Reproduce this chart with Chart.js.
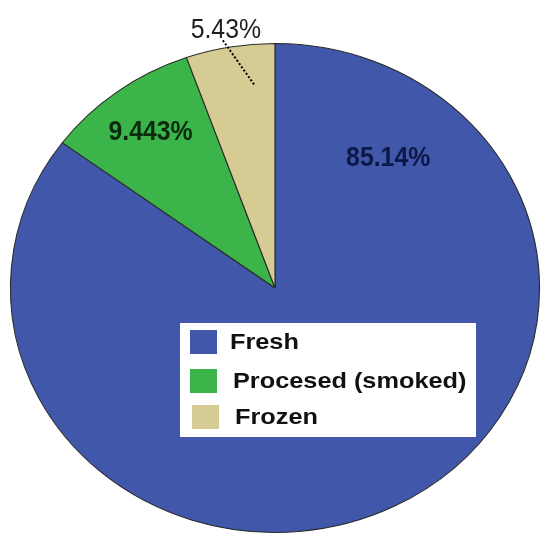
<!DOCTYPE html>
<html>
<head>
<meta charset="utf-8">
<script src="https://cdn.jsdelivr.net/npm/chart.js@4"></script>
<style>
  html, body { margin: 0; padding: 0; background: #fff; }
  #wrap { width: 543px; height: 537px; }
</style>
</head>
<body>
<div id="wrap"><canvas id="pie" width="543" height="537"></canvas></div>
<script>
// data
const categories = ['Fresh', 'Procesed (smoked)', 'Frozen'];
const shares = [85.14, 9.443, 5.43];
const sliceColors = ['#4157AA', '#3BB54A', '#D5CB93'];
const labelColors = ['#0c1848', '#0b2a0e', '#1e1e1e'];

// the pie is a bit wider than tall in the picture
const stretchX = 1.082;

const ellipse = {
    id: 'ellipse',
    beforeDatasetsDraw(chart) {
        const arc = chart.getDatasetMeta(0).data[0];
        const ctx = chart.ctx;
        ctx.save();
        ctx.translate(arc.x, arc.y);
        ctx.scale(stretchX, 1);
        ctx.translate(-arc.x, -arc.y);
    },
    afterDatasetsDraw(chart) {
        chart.ctx.restore();
    }
};

// where each percentage sits: angle (deg, clockwise from top) and fraction of radius
const labelAt = [
    { angle: 39, r: 0.68 },
    null, // middle of slice
    { angle: 350, r: 1.07, leaderTo: { angle: 354.8, r: 0.83 } }
];

function polar(arc, angleDeg, frac) {
    const a = angleDeg * Math.PI / 180;
    return {
        x: arc.x + Math.sin(a) * arc.outerRadius * frac * stretchX,
        y: arc.y - Math.cos(a) * arc.outerRadius * frac
    };
}

const annotations = {
    id: 'annotations',
    afterDraw(chart) {
        const ctx = chart.ctx;
        const arcs = chart.getDatasetMeta(0).data;

        // percentage labels
        arcs.forEach(function (arc, i) {
            let spot = labelAt[i];
            let pos;
            if (spot) {
                pos = polar(arc, spot.angle, spot.r);
            } else {
                const mid = ((arc.startAngle + arc.endAngle) / 2 + Math.PI / 2) * 180 / Math.PI;
                pos = polar(arc, mid, 0.79);
            }
            ctx.save();
            if (spot && spot.leaderTo) {
                const end = polar(arc, spot.leaderTo.angle, spot.leaderTo.r);
                ctx.strokeStyle = '#000';
                ctx.lineWidth = 2;
                ctx.setLineDash([2, 2]);
                ctx.beginPath();
                ctx.moveTo(pos.x - 3, pos.y + 10);
                ctx.lineTo(end.x, end.y);
                ctx.stroke();
                ctx.setLineDash([]);
            }
            ctx.translate(pos.x, pos.y);
            ctx.scale(0.92, 1);
            ctx.font = (i === 2 ? '' : 'bold ') + '27px "Liberation Sans", Arial, sans-serif';
            ctx.fillStyle = labelColors[i];
            ctx.textAlign = 'center';
            ctx.textBaseline = 'middle';
            ctx.fillText(shares[i] + '%', 0, 0);
            ctx.restore();
        });

        // legend box inside the pie
        const box = { left: 180, top: 323, width: 296, height: 114 };
        ctx.save();
        ctx.fillStyle = '#ffffff';
        ctx.fillRect(box.left, box.top, box.width, box.height);
        const rowTops = [7, 46, 82];
        const textShift = [50, 53, 55];
        categories.forEach(function (name, i) {
            const y = box.top + rowTops[i];
            ctx.fillStyle = sliceColors[i];
            ctx.fillRect(box.left + 10 + (i === 2 ? 2 : 0), y, 27, 24);
            ctx.save();
            ctx.translate(box.left + textShift[i], y + 19);
            ctx.scale(1.15, 1);
            ctx.font = 'bold 22px "Liberation Sans", Arial, sans-serif';
            ctx.fillStyle = '#111';
            ctx.textAlign = 'left';
            ctx.textBaseline = 'alphabetic';
            ctx.fillText(name, 0, 0);
            ctx.restore();
        });
        ctx.restore();
    }
};

new Chart(document.getElementById('pie'), {
    type: 'pie',
    data: {
        labels: categories,
        datasets: [{
            data: shares,
            backgroundColor: sliceColors,
            borderColor: '#2a2a2a',
            borderWidth: 1
        }]
    },
    options: {
        responsive: false,
        animation: false,
        layout: { padding: { top: 43, bottom: 4, left: 30, right: 23 } },
        plugins: {
            legend: { display: false },
            tooltip: { enabled: false }
        }
    },
    plugins: [ellipse, annotations]
});
</script>
</body>
</html>
